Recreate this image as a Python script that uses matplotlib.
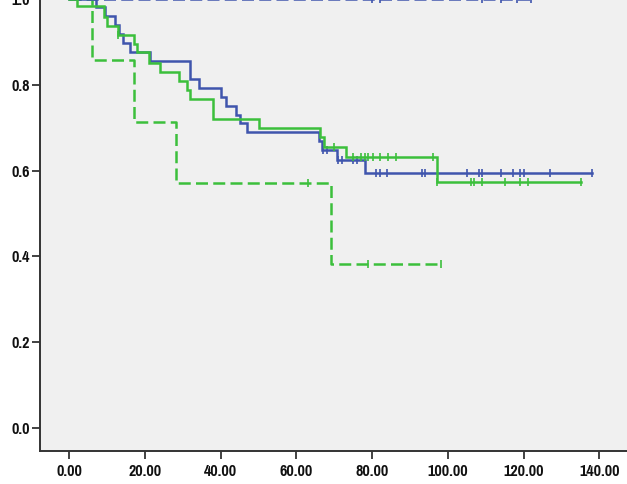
import numpy as np
import matplotlib
matplotlib.use("Agg")
import matplotlib.pyplot as plt
from matplotlib import font_manager as fm

# ---- data ----
blue_solid_t = [7.0, 9.5, 12.1, 13.2, 14.1, 16.0, 21.2, 32.0, 34.2, 40.1, 41.4, 44.0, 45.0, 47.0, 66.0, 66.8, 70.8, 78.0]
blue_solid_s = [0.982, 0.961, 0.940, 0.919, 0.898, 0.876, 0.855, 0.814, 0.793, 0.771, 0.751, 0.730, 0.710, 0.689, 0.670, 0.647, 0.624, 0.594]
blue_solid_end = 138.1
blue_solid_cens = [67.1, 68.0, 71.1, 71.9, 75.0, 76.0, 81.0, 82.0, 84.0, 93.1, 94.0, 105.0, 108.2, 109.1, 114.0, 117.1, 119.0, 120.0, 127.0, 138.1]

green_solid_t = [2.0, 9.2, 9.9, 12.9, 17.1, 18.0, 21.1, 24.0, 29.1, 31.0, 31.9, 38.0, 50.1, 66.2, 67.2, 73.0, 97.0]
green_solid_s = [0.984, 0.959, 0.9375, 0.9165, 0.895, 0.876, 0.852, 0.831, 0.809, 0.788, 0.766, 0.721, 0.699, 0.678, 0.654, 0.632, 0.574]
green_solid_end = 135.2
green_solid_cens = [12.95, 70.0, 75.0, 77.0, 78.1, 79.0, 80.1, 82.1, 84.1, 86.2, 96.0, 97.0, 106.1, 107.0, 109.1, 115.1, 119.0, 121.1, 135.2]

green_dash_t = [6.1, 17.1, 28.1, 69.0]
green_dash_s = [0.857, 0.714, 0.571, 0.381]
green_dash_end = 98.1
green_dash_cens = [63.1, 79.0, 98.1]

blue_dash_t = []
blue_dash_s = []
blue_dash_end = 122.0
blue_dash_cens = [80.0, 82.0, 108.9, 114.0, 118.2, 122.0]

x_ticks = [0, 20, 40, 60, 80, 100, 120, 140]
x_ticklabels = ["0.00", "20.00", "40.00", "60.00", "80.00", "100.00", "120.00", "140.00"]
y_ticks = [0.0, 0.2, 0.4, 0.6, 0.8, 1.0]
y_ticklabels = ["0.0", "0.2", "0.4", "0.6", "0.8", "1.0"]

BLUE = "#3f55ad"
GREEN = "#3cbf3c"
BG = "#f0f0f0"

# pick a narrow/condensed bold font if one is installed
fontfile = None
cands = []
for f in fm.fontManager.ttflist:
    nm = f.name.lower()
    fn = f.fname.lower()
    score = 0
    if "narrow" in nm or "narrow" in fn:
        score += 10
    if "condensed" in nm or "condensed" in fn or f.stretch in ("condensed", "semi-condensed"):
        score += 8
    if score == 0:
        continue
    w = f.weight
    isbold = ("bold" in fn) or (w == "bold") or (isinstance(w, int) and w >= 600)
    if isbold:
        score += 6
    if "oblique" in fn or "italic" in fn:
        score -= 20
    if "mono" in nm or ("serif" in nm and "sans" not in nm):
        score -= 5
    cands.append((score, f.fname))
cands.sort(reverse=True)
if cands:
    fontfile = cands[0][1]

if fontfile:
    fprop = fm.FontProperties(fname=fontfile, size=12.5)
else:
    fprop = fm.FontProperties(family="DejaVu Sans", weight="bold", size=10)

fig = plt.figure(figsize=(6.27, 4.84), dpi=100)
W, H = 627.0, 484.0
x0_px, px_per_unit = 69.3, 3.786
y0_px, py_per_unit = 427.7, 428.5
xlim = (-7.66, 150.0)
ylim = (-0.055, 1.06)
left = x0_px + xlim[0] * px_per_unit
right = x0_px + xlim[1] * px_per_unit
bottom = y0_px - ylim[0] * py_per_unit
top = y0_px - ylim[1] * py_per_unit
ax = fig.add_axes([left / W, (H - bottom) / H, (right - left) / W, (bottom - top) / H])
ax.set_facecolor(BG)
ax.set_xlim(*xlim)
ax.set_ylim(*ylim)


def draw(t, s, end, cens, color, dashed, z):
    xs = [0.0] + list(t) + [end]
    ys = [1.0] + list(s) + [s[-1] if len(s) else 1.0]
    line, = ax.step(xs, ys, where="post", color=color, lw=1.8, zorder=z,
                    solid_joinstyle="miter")
    if dashed:
        line.set_dashes((4.8, 2.1))
    tt = np.array(xs)
    yy = np.array(ys)
    idx = np.searchsorted(tt, np.array(cens), side="right") - 1
    ax.plot(cens, yy[idx], linestyle="none", marker="|", markersize=6,
            markeredgewidth=1.2, color=color, zorder=z)


draw(blue_dash_t, blue_dash_s, blue_dash_end, blue_dash_cens, BLUE, True, 3)
draw(green_dash_t, green_dash_s, green_dash_end, green_dash_cens, GREEN, True, 3)
draw(blue_solid_t, blue_solid_s, blue_solid_end, blue_solid_cens, BLUE, False, 4)
draw(green_solid_t, green_solid_s, green_solid_end, green_solid_cens, GREEN, False, 5)

ax.set_xticks(x_ticks)
ax.set_xticklabels(x_ticklabels)
ax.set_yticks(y_ticks)
ax.set_yticklabels(y_ticklabels)
for lab in ax.get_xticklabels() + ax.get_yticklabels():
    lab.set_fontproperties(fprop)
    lab.set_color("#111111")
ax.tick_params(axis="both", length=6, width=1.3, color="#333333")
ax.tick_params(axis="x", pad=3)
ax.tick_params(axis="y", pad=1.5)
for sp in ["top", "right"]:
    ax.spines[sp].set_visible(False)
for sp in ["left", "bottom"]:
    ax.spines[sp].set_linewidth(1.4)
    ax.spines[sp].set_color("#333333")

fig.savefig("out.png", dpi=100)
